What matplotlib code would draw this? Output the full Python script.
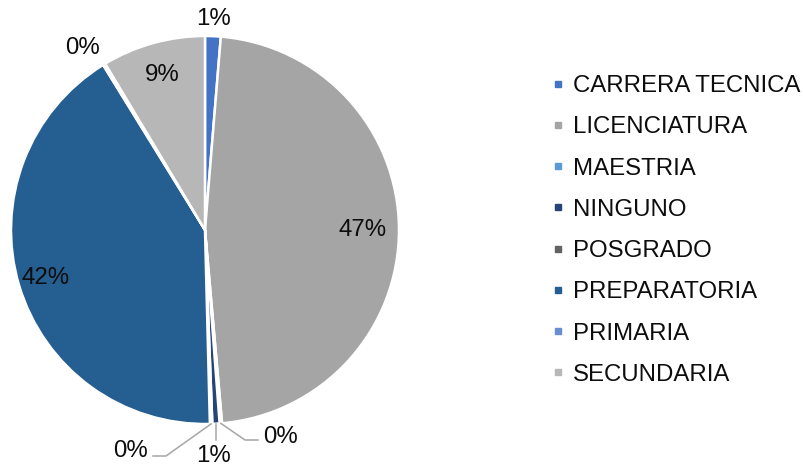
import numpy as np
import matplotlib
matplotlib.use("Agg")
import matplotlib.pyplot as plt
from matplotlib.lines import Line2D

plt.rcParams['font.family'] = ['Liberation Sans', 'DejaVu Sans']

categories = ["CARRERA TECNICA", "LICENCIATURA", "MAESTRIA", "NINGUNO",
              "POSGRADO", "PREPARATORIA", "PRIMARIA", "SECUNDARIA"]
values = [1.3, 47.3, 0.2, 0.6, 0.2, 41.6, 0.2, 8.6]
colors = ["#4472C4", "#A5A5A5", "#5B9BD5", "#264478",
          "#636363", "#255E91", "#698ED0", "#B7B7B7"]

FS = 17.3
TC = '#0d0d0d'
W, H = 804, 468
fig = plt.figure(figsize=(W / 100, H / 100), dpi=100)
cx, cy, R = 205, 230, 194
ax = fig.add_axes([0, 0, 402 / W, 1])

def px(x, y):
    return ((x - cx) / R, (cy - y) / R)

wedges, _ = ax.pie(values, colors=colors, startangle=90, counterclock=False,
                   radius=1.0, center=(0, 0),
                   wedgeprops=dict(edgecolor='white', linewidth=1.8))
ax.set_aspect('auto')
ax.set_xlim((0 - cx) / R, (402 - cx) / R)
ax.set_ylim((cy - H) / R, (cy - 0) / R)
ax.axis('off')

total = sum(values)
cum = np.cumsum([0] + values[:-1])
mid = [90 - 360 * (c + v / 2) / total for c, v in zip(cum, values)]
labels = [f"{100 * v / total:.0f}%" for v in values]

def on_circle(i, r):
    a = np.deg2rad(mid[i])
    return r * np.cos(a), r * np.sin(a)

# inside labels
inside_r = {1: 0.81, 5: 0.86, 7: 0.83}
for i, r in inside_r.items():
    x, y = on_circle(i, r)
    ax.text(x, y, labels[i], ha='center', va='center', fontsize=FS, color=TC)

# top small label
x, y = on_circle(0, 1.09)
ax.text(x, y, labels[0], ha='center', va='center', fontsize=FS, color=TC)
# PRIMARIA label
ax.text(*px(82, 48), labels[6], ha='center', va='center', fontsize=FS, color=TC)

lc = '#A6A6A6'
# MAESTRIA (right bottom)
sx, sy = on_circle(2, 1.0)
p1 = px(245, 440); p2 = px(258, 440)
ax.plot([sx, p1[0], p2[0]], [sy, p1[1], p2[1]], color=lc, lw=1.1)
ax.text(*px(280, 437), labels[2], ha='center', va='center', fontsize=FS, color=TC)
# NINGUNO (middle bottom)
sx, sy = on_circle(3, 1.0)
p1 = px(215, 440)
ax.plot([sx, sx], [sy, p1[1]], color=lc, lw=1.1)
ax.text(*px(213, 456), labels[3], ha='center', va='center', fontsize=FS, color=TC)
# POSGRADO (left bottom)
sx, sy = on_circle(4, 1.0)
p1 = px(166, 456); p2 = px(153, 456)
ax.plot([sx, p1[0], p2[0]], [sy, p1[1], p2[1]], color=lc, lw=1.1)
ax.text(*px(130, 451), labels[4], ha='center', va='center', fontsize=FS, color=TC)

handles = [Line2D([], [], marker='s', linestyle='none', markersize=5,
                  markerfacecolor=c, markeredgecolor=c) for c in colors]
fig.legend(handles, categories, loc='center left', bbox_to_anchor=(551.6 / W, 1 - 230.5 / H),
           frameon=False, fontsize=FS, handlelength=0.5, handletextpad=0.4,
           labelspacing=0.8, borderpad=0, borderaxespad=0, labelcolor=TC)

fig.savefig("out.png", dpi=100)
